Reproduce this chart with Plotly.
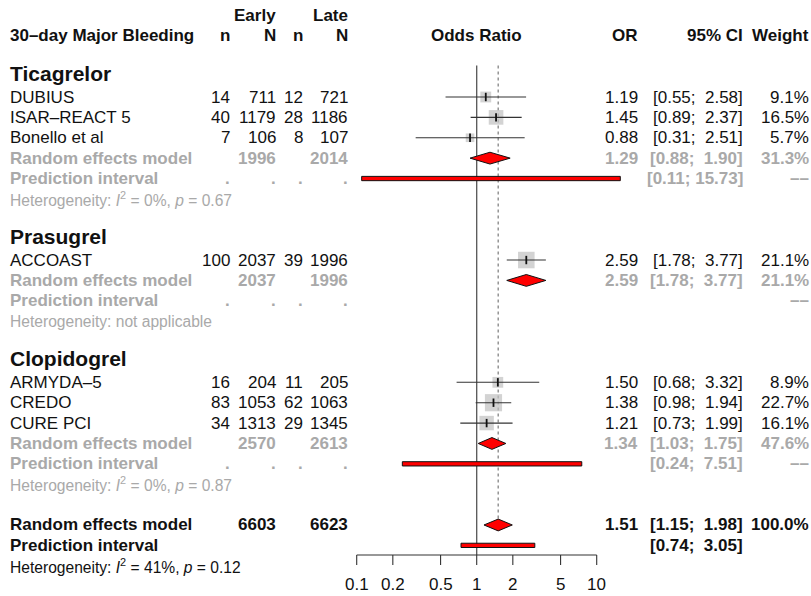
import math
import plotly.graph_objects as go

W, H = 811, 596

# ---------------- data ----------------
groups = ["Ticagrelor", "Prasugrel", "Clopidogrel"]

study_names = ["DUBIUS", "ISAR–REACT 5", "Bonello et al", "ACCOAST",
               "ARMYDA–5", "CREDO", "CURE PCI"]
study_group = [0, 0, 0, 1, 2, 2, 2]
early_events = [14, 40, 7, 100, 16, 83, 34]
early_total = [711, 1179, 106, 2037, 204, 1053, 1313]
late_events = [12, 28, 8, 39, 11, 62, 29]
late_total = [721, 1186, 107, 1996, 205, 1063, 1345]
odds_ratio = [1.19, 1.45, 0.88, 2.59, 1.50, 1.38, 1.21]
ci_low = [0.55, 0.89, 0.31, 1.78, 0.68, 0.98, 0.73]
ci_high = [2.58, 2.37, 2.51, 3.77, 3.32, 1.94, 1.99]
weight = [9.1, 16.5, 5.7, 21.1, 8.9, 22.7, 16.1]

sub_early_total = [1996, 2037, 2570]
sub_late_total = [2014, 1996, 2613]
sub_or = [1.29, 2.59, 1.34]
sub_low = [0.88, 1.78, 1.03]
sub_high = [1.90, 3.77, 1.75]
sub_weight = [31.3, 21.1, 47.6]
sub_pi_low = [0.11, None, 0.24]
sub_pi_high = [15.73, None, 7.51]
sub_i2 = [0, None, 0]
sub_p = [0.67, None, 0.87]

overall_early_total = 6603
overall_late_total = 6623
overall_or = 1.51
overall_low = 1.15
overall_high = 1.98
overall_weight = 100.0
overall_pi_low = 0.74
overall_pi_high = 3.05
overall_i2 = 41
overall_p = 0.12

axis_ticks = [0.1, 0.2, 0.5, 1, 2, 5, 10]
axis_tick_labels = ["0.1", "0.2", "0.5", "1", "2", "5", "10"]

# ---------------- styling ----------------
FONT = "Liberation Sans, Arial, Helvetica, sans-serif"
BLACK = "#111111"
GRAY = "#a9a9a9"
SQUARE = "#c0c0c0"
RED = "#ff0000"
FS = 17
FS_GROUP = 21
FS_HET = 15.6

# row geometry (rows are counted downward)
ROW0_PX = 97.0
ROW_H = 20.38
# log-scale geometry for the odds-ratio panel
ONE_PX = 476.7
DECADE_PX = 120.0

# text column anchors (pixels)
X_NAME = 10
X_EN, X_EN_TOT, X_LN, X_LN_TOT = 230, 276, 303, 348
X_OR, X_CI, X_W = 638, 743, 809

NBSP = "\u00a0"


def fmt_ci(lo, hi):
    return ("[%.2f; %5.2f]" % (lo, hi)).replace(" ", NBSP)


def fmt_w(w):
    return "%.1f%%" % w


annotations = []


def txt(xpx, row, s, anchor="right", size=FS, color=BLACK, bold=False,
        yshift=0):
    if bold:
        s = "<b>" + s + "</b>"
    annotations.append(dict(
        xref="paper", yref="y", x=xpx / W, y=row, text=s,
        xanchor=anchor, yanchor="middle", showarrow=False,
        font=dict(family=FONT, size=size, color=color),
        borderpad=0, borderwidth=0, yshift=yshift))


traces = []
ci_x, ci_y = [], []
sq_x, sq_y, sq_s = [], [], []
diamonds = []
pi_bars = []

# headers
txt(X_EN_TOT, -4, "Early", bold=True)
txt(X_LN_TOT, -4, "Late", bold=True)
txt(X_NAME, -3, "30–day Major Bleeding", anchor="left", bold=True)
for xp, s in [(X_EN, "n"), (X_EN_TOT, "N"), (X_LN, "n"), (X_LN_TOT, "N"),
              (X_OR, "OR"), (X_CI, "95% CI"), (X_W, "Weight")]:
    txt(xp, -3, s, bold=True)
# centred over OR = 1 (log10(1) = 0 on the log axis)
annotations.append(dict(
    xref="x", yref="y", x=0, y=-3, text="<b>Odds Ratio</b>",
    xanchor="center", yanchor="middle", showarrow=False,
    font=dict(family=FONT, size=FS, color=BLACK), borderpad=0, borderwidth=0))

row = -1
for g, gname in enumerate(groups):
    txt(X_NAME, row, gname, anchor="left", size=FS_GROUP, bold=True, yshift=3)
    row += 1
    for i in range(len(study_names)):
        if study_group[i] != g:
            continue
        txt(X_NAME, row, study_names[i], anchor="left")
        txt(X_EN, row, str(early_events[i]))
        txt(X_EN_TOT, row, str(early_total[i]))
        txt(X_LN, row, str(late_events[i]))
        txt(X_LN_TOT, row, str(late_total[i]))
        txt(X_OR, row, "%.2f" % odds_ratio[i])
        txt(X_CI, row, fmt_ci(ci_low[i], ci_high[i]))
        txt(X_W, row, fmt_w(weight[i]))
        ci_x += [ci_low[i], ci_high[i], None]
        ci_y += [row, row, None]
        sq_x.append(odds_ratio[i])
        sq_y.append(row)
        sq_s.append(3.6 * math.sqrt(weight[i]))
        row += 1
    # subgroup random effects model
    txt(X_NAME, row, "Random effects model", anchor="left", color=GRAY, bold=True)
    txt(X_EN_TOT, row, str(sub_early_total[g]), color=GRAY, bold=True)
    txt(X_LN_TOT, row, str(sub_late_total[g]), color=GRAY, bold=True)
    txt(X_OR, row, "%.2f" % sub_or[g], color=GRAY, bold=True)
    txt(X_CI, row, fmt_ci(sub_low[g], sub_high[g]), color=GRAY, bold=True)
    txt(X_W, row, fmt_w(sub_weight[g]), color=GRAY, bold=True)
    diamonds.append((sub_low[g], sub_or[g], sub_high[g], row))
    row += 1
    # subgroup prediction interval
    txt(X_NAME, row, "Prediction interval", anchor="left", color=GRAY, bold=True)
    for xp in (X_EN, X_EN_TOT, X_LN, X_LN_TOT):
        txt(xp, row, ".", color=GRAY, bold=True)
    if sub_pi_low[g] is not None:
        txt(X_CI, row, fmt_ci(sub_pi_low[g], sub_pi_high[g]), color=GRAY, bold=True)
        pi_bars.append((sub_pi_low[g], sub_pi_high[g], row))
    txt(X_W, row, "––", color=GRAY, bold=True)
    row += 1
    # heterogeneity
    if sub_i2[g] is None:
        het = "Heterogeneity: not applicable"
    else:
        het = ("Heterogeneity: <i>I</i><sup>2</sup> = %d%%, <i>p</i> = %.2f"
               % (sub_i2[g], sub_p[g]))
    txt(X_NAME, row, het, anchor="left", size=FS_HET, color=GRAY)
    row += 2

# overall model
overall_row = row
txt(X_NAME, row, "Random effects model", anchor="left", bold=True)
txt(X_EN_TOT, row, str(overall_early_total), bold=True)
txt(X_LN_TOT, row, str(overall_late_total), bold=True)
txt(X_OR, row, "%.2f" % overall_or, bold=True)
txt(X_CI, row, fmt_ci(overall_low, overall_high), bold=True)
txt(X_W, row, fmt_w(overall_weight), bold=True)
diamonds.append((overall_low, overall_or, overall_high, row))
row += 1
txt(X_NAME, row, "Prediction interval", anchor="left", bold=True)
txt(X_CI, row, fmt_ci(overall_pi_low, overall_pi_high), bold=True)
pi_bars.append((overall_pi_low, overall_pi_high, row))
row += 1
txt(X_NAME, row, "Heterogeneity: <i>I</i><sup>2</sup> = %d%%, <i>p</i> = %.2f"
    % (overall_i2, overall_p), anchor="left", size=FS_HET)

# ---------------- marks ----------------
top_row = -1.55
axis_row = (555 - ROW0_PX) / ROW_H
tick_len = 10 / ROW_H
label_row = (584 - ROW0_PX) / ROW_H

# reference line at OR = 1 and dotted line at the pooled estimate
traces.append(go.Scatter(x=[1, 1], y=[top_row, axis_row], mode="lines",
                         line=dict(color="#555555", width=1.3),
                         hoverinfo="skip"))
traces.append(go.Scatter(x=[overall_or, overall_or], y=[top_row, overall_row],
                         mode="lines",
                         line=dict(color="#7a7a7a", width=1.2, dash="dot"),
                         hoverinfo="skip"))

# weighted squares
traces.append(go.Scatter(x=sq_x, y=sq_y, mode="markers",
                         marker=dict(symbol="square", size=sq_s, color=SQUARE,
                                     line=dict(width=0)),
                         hoverinfo="skip"))
# study confidence intervals
traces.append(go.Scatter(x=ci_x, y=ci_y, mode="lines",
                         line=dict(color="#333333", width=1.1),
                         hoverinfo="skip"))
# point estimate ticks
traces.append(go.Scatter(x=sq_x, y=sq_y, mode="markers",
                         marker=dict(symbol="line-ns", size=6, color="#111111",
                                     line=dict(color="#111111", width=1.8)),
                         hoverinfo="skip"))

# pooled-estimate diamonds
DH = 0.29
for lo, est, hi, r in diamonds:
    traces.append(go.Scatter(x=[lo, est, hi, est, lo],
                             y=[r, r - DH, r, r + DH, r],
                             mode="lines", fill="toself", fillcolor=RED,
                             line=dict(color="#111111", width=1),
                             hoverinfo="skip"))

# prediction interval bars
PH = 0.105
for lo, hi, r in pi_bars:
    traces.append(go.Scatter(x=[lo, hi, hi, lo, lo],
                             y=[r - PH, r - PH, r + PH, r + PH, r - PH],
                             mode="lines", fill="toself", fillcolor=RED,
                             line=dict(color="#111111", width=1),
                             hoverinfo="skip"))

# x axis drawn within the data space
ax_x = [axis_ticks[0], axis_ticks[-1], None]
ax_y = [axis_row, axis_row, None]
for t in axis_ticks:
    ax_x += [t, t, None]
    ax_y += [axis_row, axis_row + tick_len, None]
traces.append(go.Scatter(x=ax_x, y=ax_y, mode="lines",
                         line=dict(color="#333333", width=1.1),
                         hoverinfo="skip"))
for t, lab in zip(axis_ticks, axis_tick_labels):
    annotations.append(dict(
        xref="x", yref="y", x=math.log10(t), y=label_row, text=lab,
        xanchor="center", yanchor="middle", showarrow=False,
        font=dict(family=FONT, size=FS, color=BLACK),
        borderpad=0, borderwidth=0))

fig = go.Figure(traces)

x_lo = -ONE_PX / DECADE_PX
x_hi = (W - ONE_PX) / DECADE_PX
y_top = (0 - ROW0_PX) / ROW_H
y_bot = (H - ROW0_PX) / ROW_H

fig.update_layout(
    width=W, height=H,
    margin=dict(l=0, r=0, t=0, b=0),
    paper_bgcolor="white", plot_bgcolor="white",
    showlegend=False,
    xaxis=dict(type="log", range=[x_lo, x_hi], visible=False, fixedrange=True),
    yaxis=dict(range=[y_bot, y_top], visible=False, fixedrange=True),
    annotations=annotations,
)

fig.write_html("out.html")
